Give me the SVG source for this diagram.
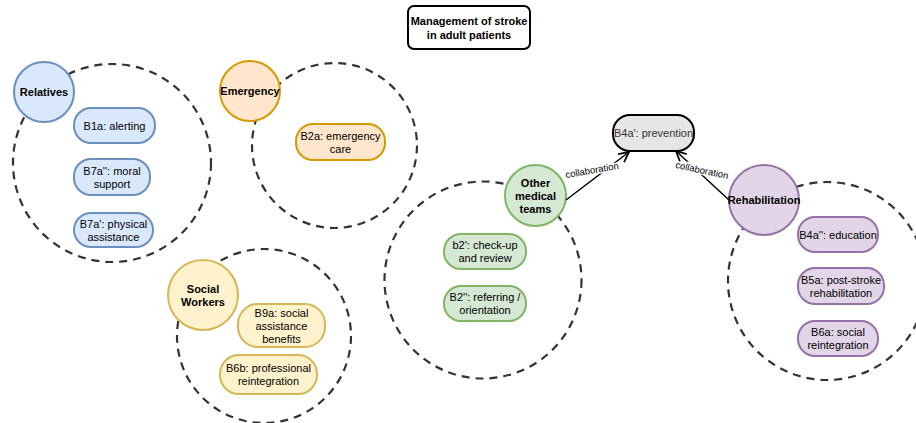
<svg xmlns="http://www.w3.org/2000/svg" width="916" height="423" viewBox="0 0 916 423">
<style>
text{font-family:"Liberation Sans",Arial,sans-serif;font-size:11px;text-anchor:middle;dominant-baseline:central;fill:#000}
.b{font-weight:bold}
.ring{fill:none;stroke:#333;stroke-width:2.2;stroke-dasharray:8 6}
.blue{fill:#dae8fc;stroke:#6c8ebf;stroke-width:2}
.orange{fill:#ffe6cc;stroke:#d79b00;stroke-width:2}
.yellow{fill:#fff2cc;stroke:#d6b656;stroke-width:2}
.green{fill:#d5e8d4;stroke:#82b366;stroke-width:2}
.purple{fill:#e1d5e7;stroke:#9673a6;stroke-width:2}
.edge{stroke:#000;stroke-width:1.5;fill:none}
.lbl{font-size:9.5px}
</style>
<defs>
<marker id="open" viewBox="0 0 12 12" refX="11" refY="6" markerWidth="12" markerHeight="12" markerUnits="userSpaceOnUse" orient="auto">
<path d="M1,1 L11,6 L1,11" fill="none" stroke="#000" stroke-width="1.8"/>
</marker>
</defs>
<rect width="916" height="423" fill="#fff"/>
<g id="rings">
<circle class="ring" cx="112" cy="163" r="99"/>
<circle class="ring" cx="334.5" cy="145.5" r="82.5"/>
<circle class="ring" cx="264" cy="336" r="87"/>
<circle class="ring" cx="483" cy="280" r="98.5"/>
<circle class="ring" cx="827" cy="281" r="99"/>
</g>
<g id="title">
<rect x="408" y="6" width="122" height="43" rx="6" fill="#fff" stroke="#000" stroke-width="2"/>
<text class="b" x="469" y="21">Management of stroke</text>
<text class="b" x="469" y="35">in adult patients</text>
</g>
<g id="relatives">
<circle class="blue" cx="44" cy="92" r="30"/>
<text class="b" x="44" y="92">Relatives</text>
</g>
<g id="b1a">
<rect class="blue" x="74" y="108" width="81" height="35" rx="17"/>
<text x="114.5" y="125.5">B1a: alerting</text>
</g>
<g id="b7a2">
<rect class="blue" x="74" y="159" width="76" height="36" rx="17"/>
<text x="112" y="170.5">B7a'': moral</text>
<text x="112" y="183.5">support</text>
</g>
<g id="b7a1">
<rect class="blue" x="74" y="213" width="79" height="34" rx="17"/>
<text x="113.5" y="223.5">B7a': physical</text>
<text x="113.5" y="236.5">assistance</text>
</g>
<g id="emergency">
<circle class="orange" cx="250" cy="91" r="30"/>
<text class="b" x="250" y="91">Emergency</text>
</g>
<g id="b2a">
<rect class="orange" x="296" y="124" width="89" height="36" rx="17"/>
<text x="340.5" y="135.5">B2a: emergency</text>
<text x="340.5" y="148.5">care</text>
</g>
<g id="social">
<circle class="yellow" cx="203" cy="295" r="35"/>
<text class="b" x="203" y="288.5">Social</text>
<text class="b" x="203" y="301.5">Workers</text>
</g>
<g id="b9a">
<rect class="yellow" x="238" y="304" width="87" height="43" rx="20"/>
<text x="281.5" y="312.5">B9a: social</text>
<text x="281.5" y="325.5">assistance</text>
<text x="281.5" y="338.5">benefits</text>
</g>
<g id="b6b">
<rect class="yellow" x="220" y="355" width="97" height="39" rx="19"/>
<text x="268.5" y="368">B6b: professional</text>
<text x="268.5" y="381">reintegration</text>
</g>
<g id="other">
<circle class="green" cx="535.5" cy="195.5" r="30.5"/>
<text class="b" x="535.5" y="182.5">Other</text>
<text class="b" x="535.5" y="195.5">medical</text>
<text class="b" x="535.5" y="208.5">teams</text>
</g>
<g id="b2p">
<rect class="green" x="444" y="234" width="82" height="35" rx="17"/>
<text x="485" y="245">b2': check-up</text>
<text x="485" y="258">and review</text>
</g>
<g id="b2pp">
<rect class="green" x="444" y="286" width="82" height="35" rx="17"/>
<text x="485" y="297">B2'': referring /</text>
<text x="485" y="310">orientation</text>
</g>
<g id="prevention">
<rect x="613" y="115" width="81" height="36" rx="17" fill="#e6e6e6" stroke="#000" stroke-width="2"/>
<text x="653.5" y="133" style="fill:#333">B4a': prevention</text>
</g>
<g id="rehabilitation">
<circle class="purple" cx="764" cy="200" r="35"/>
<text class="b" x="764" y="200">Rehabilitation</text>
</g>
<g id="b4a2">
<rect class="purple" x="798" y="217" width="80" height="35" rx="17"/>
<text x="838" y="234.5">B4a'': education</text>
</g>
<g id="b5a">
<rect class="purple" x="798" y="268" width="86" height="36" rx="17"/>
<text x="841" y="279.5">B5a: post-stroke</text>
<text x="841" y="292.5">rehabilitation</text>
</g>
<g id="b6a">
<rect class="purple" x="798" y="321" width="80" height="35" rx="17"/>
<text x="838" y="332">B6a: social</text>
<text x="838" y="345">reintegration</text>
</g>
<g id="connectors">
<line class="edge" x1="566" y1="200" x2="629" y2="152" marker-end="url(#open)"/>
<line class="edge" x1="729" y1="200" x2="676" y2="151" marker-end="url(#open)"/>
<text class="lbl" x="592" y="170" transform="rotate(-10 592 170)" stroke="#fff" stroke-width="3" paint-order="stroke">collaboration</text>
<text class="lbl" x="702" y="170" transform="rotate(12 702 170)" stroke="#fff" stroke-width="3" paint-order="stroke">collaboration</text>
</g>
</svg>
